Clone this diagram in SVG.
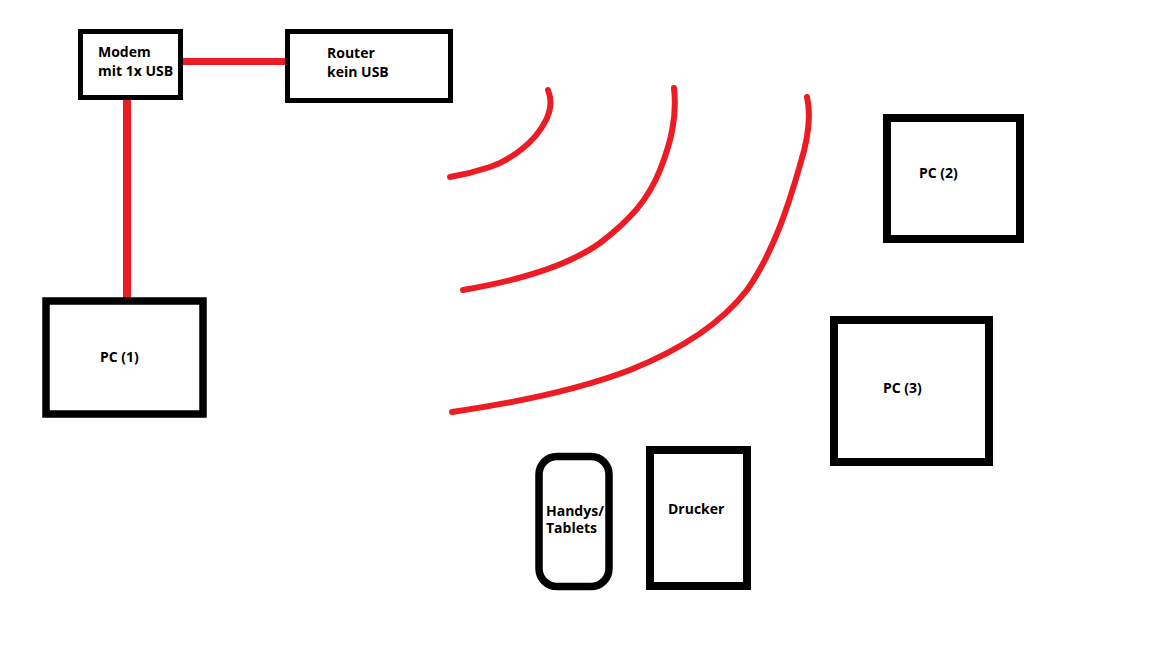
<svg xmlns="http://www.w3.org/2000/svg" width="1152" height="648" viewBox="0 0 1152 648">
<style>
.box{fill:#fff;stroke:#000}
.lbl{font-family:"Open Sans","Noto Sans",sans-serif;font-weight:bold;font-size:14px;fill:#000}
.wire{stroke:#ed1c24;fill:none;stroke-linecap:round}
.wave{stroke:#ed1c24;fill:none;stroke-width:6;stroke-linecap:round;stroke-linejoin:round}
</style>
<rect width="1152" height="648" fill="#fff"/>
<g id="connectors">
<line class="wire" x1="181" y1="61.5" x2="288" y2="61.5" stroke-width="7"/>
<line class="wire" x1="127" y1="97" x2="127" y2="300" stroke-width="8" stroke-linecap="butt"/>
</g>
<g id="wifi">
<path class="wave" d="M548,90 C552,100 551,110 546,120 C535,143 510,160 490,167 C475,172 462,175 450,177"/>
<path class="wave" d="M674,88 C677,115 672,140 660,170 C648,200 630,220 600,243 C565,268 510,282 463,290"/>
<path class="wave" d="M807,97 C811,115 808,140 800,165 C790,200 775,250 747,290 C720,325 680,350 630,370 C570,393 500,405 452,412"/>
</g>
<g id="modem">
<rect class="box" x="80.5" y="31.5" width="100" height="66" stroke-width="5"/>
<text class="lbl" x="98" y="57">Modem</text>
<text class="lbl" x="98" y="76">mit 1x USB</text>
</g>
<g id="router">
<rect class="box" x="287.5" y="31.5" width="163" height="69" stroke-width="5"/>
<text class="lbl" x="327" y="58">Router</text>
<text class="lbl" x="327" y="77">kein USB</text>
</g>
<g id="pc1">
<rect class="box" x="46" y="301" width="157" height="113" stroke-width="7.5"/>
<text class="lbl" x="100" y="362">PC (1)</text>
</g>
<g id="pc2">
<rect class="box" x="887" y="118" width="133" height="121" stroke-width="8"/>
<text class="lbl" x="919" y="178">PC (2)</text>
</g>
<g id="pc3">
<rect class="box" x="834" y="320" width="155" height="142" stroke-width="8"/>
<text class="lbl" x="883" y="393">PC (3)</text>
</g>
<g id="handys">
<rect class="box" x="539" y="456.5" width="70" height="130" rx="18" ry="18" stroke-width="7.5"/>
<text class="lbl" x="546" y="516">Handys/</text>
<text class="lbl" x="546" y="533">Tablets</text>
</g>
<g id="drucker">
<rect class="box" x="650" y="450" width="97" height="136" stroke-width="8"/>
<text class="lbl" x="668" y="514">Drucker</text>
</g>
</svg>
